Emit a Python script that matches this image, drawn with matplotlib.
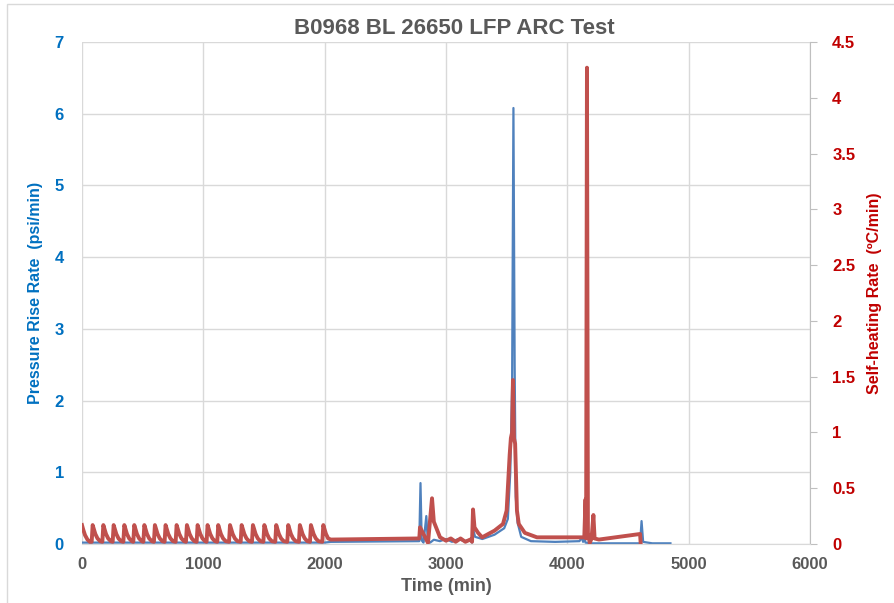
import matplotlib
matplotlib.use("Agg")
import matplotlib.pyplot as plt
from matplotlib.patches import Rectangle

plt.rcParams['font.family'] = ['Liberation Sans', 'DejaVu Sans']
plt.rcParams['font.weight'] = 'bold'

# Pressure rise rate (psi/min) vs time (min)
pressure_time = [0, 2000, 2050, 2780, 2790, 2800, 2815, 2838, 2850, 2870, 2900, 2950, 3000,
                 3050, 3100, 3150, 3200, 3215, 3225, 3240, 3300, 3400, 3480, 3510, 3530,
                 3545, 3556, 3566, 3575, 3590, 3620, 3700, 3900, 4100, 4120, 4130, 4140,
                 4150, 4200, 4600, 4612, 4625, 4700, 4850]
pressure_rate = [0.02, 0.02, 0.03, 0.04, 0.85, 0.05, 0.02, 0.39, 0.05, 0.02, 0.06, 0.04, 0.07,
                 0.03, 0.07, 0.04, 0.06, 0.02, 0.2, 0.1, 0.07, 0.13, 0.22, 0.35, 1.0,
                 2.2, 6.08, 2.5, 0.66, 0.3, 0.1, 0.04, 0.03, 0.04, 0.09, 0.03, 0.08,
                 0.02, 0.01, 0.01, 0.32, 0.03, 0.01, 0.01]

# Self-heating rate (C/min) vs time (min); heat-wait-seek teeth up to ~2000 min
heating_time = [0, 10, 25, 45, 65,
                80, 88, 96, 110, 128, 150,
                168, 176, 184, 198, 216, 238,
                253, 261, 269, 283, 301, 323,
                341, 349, 357, 371, 389, 411,
                423, 431, 439, 453, 471, 493,
                506, 514, 522, 536, 554, 576,
                593, 601, 609, 623, 641, 663,
                681, 689, 697, 711, 729, 751,
                772, 780, 788, 802, 820, 842,
                857, 865, 873, 887, 905, 927,
                945, 953, 961, 975, 993, 1015,
                1027, 1035, 1043, 1057, 1075, 1097,
                1115, 1123, 1131, 1145, 1163, 1185,
                1212, 1220, 1228, 1242, 1260, 1282,
                1308, 1316, 1324, 1338, 1356, 1378,
                1401, 1409, 1417, 1431, 1449, 1471,
                1495, 1503, 1511, 1525, 1543, 1565,
                1593, 1601, 1609, 1623, 1641, 1663,
                1692, 1700, 1708, 1722, 1740, 1762,
                1788, 1796, 1804, 1818, 1836, 1858,
                1879, 1887, 1895, 1909, 1927, 1949,
                1981, 1989, 1997, 2011, 2029, 2051,
                2780, 2786, 2800, 2852, 2885, 2900, 2951, 3000, 3040, 3080, 3120, 3160,
                3200, 3215, 3223, 3235, 3265, 3298, 3400, 3470, 3500, 3525, 3535, 3545,
                3552, 3560, 3570, 3585, 3600, 3650, 3750, 4000, 4140, 4150, 4155, 4162,
                4170, 4185, 4200, 4215, 4225, 4260, 4600, 4605]
heating_rate = [0.17, 0.13, 0.08, 0.04, 0.02,
                0.02, 0.17, 0.14, 0.09, 0.05, 0.025,
                0.02, 0.17, 0.14, 0.09, 0.05, 0.025,
                0.02, 0.17, 0.14, 0.09, 0.05, 0.025,
                0.02, 0.17, 0.14, 0.09, 0.05, 0.025,
                0.02, 0.17, 0.14, 0.09, 0.05, 0.025,
                0.02, 0.17, 0.14, 0.09, 0.05, 0.025,
                0.02, 0.17, 0.14, 0.09, 0.05, 0.025,
                0.02, 0.17, 0.14, 0.09, 0.05, 0.025,
                0.02, 0.17, 0.14, 0.09, 0.05, 0.025,
                0.02, 0.17, 0.14, 0.09, 0.05, 0.025,
                0.02, 0.17, 0.14, 0.09, 0.05, 0.025,
                0.02, 0.17, 0.14, 0.09, 0.05, 0.025,
                0.02, 0.17, 0.14, 0.09, 0.05, 0.025,
                0.02, 0.17, 0.14, 0.09, 0.05, 0.025,
                0.02, 0.17, 0.14, 0.09, 0.05, 0.025,
                0.02, 0.17, 0.14, 0.09, 0.05, 0.025,
                0.02, 0.17, 0.14, 0.09, 0.05, 0.025,
                0.02, 0.17, 0.14, 0.09, 0.05, 0.025,
                0.02, 0.17, 0.14, 0.09, 0.05, 0.025,
                0.02, 0.17, 0.14, 0.09, 0.05, 0.025,
                0.02, 0.17, 0.14, 0.09, 0.05, 0.025,
                0.02, 0.17, 0.14, 0.09, 0.05, 0.04,
                0.05, 0.15, 0.12, 0.01, 0.41, 0.2, 0.06, 0.03, 0.05, 0.02, 0.05, 0.02,
                0.04, 0.02, 0.31, 0.15, 0.1, 0.06, 0.12, 0.18, 0.3, 0.8, 0.95, 1.0,
                1.47, 0.95, 0.9, 0.3, 0.18, 0.1, 0.06, 0.06, 0.06, 0.4, 0.05, 4.27,
                0.1, 0.01, 0.05, 0.26, 0.05, 0.04, 0.09, 0.0]

blue = '#4F81BD'
red = '#C0504D'

fig = plt.figure(figsize=(8.94, 6.03), dpi=100)
ax = fig.add_axes([0.0917, 0.0978, 0.8143, 0.8325])
ax2 = ax.twinx()

ax.plot(pressure_time, pressure_rate, color=blue, linewidth=1.6, zorder=2)
ax2.plot(heating_time, heating_rate, color=red, linewidth=2.8, zorder=3)

ax.set_xlim(0, 6000)
ax.set_ylim(0, 7)
ax2.set_ylim(0, 4.5)
ax.set_xticks(range(0, 6001, 1000))
ax.set_yticks(range(0, 8))
ax2.set_yticks([0, 0.5, 1, 1.5, 2, 2.5, 3, 3.5, 4, 4.5])
ax2.set_yticklabels(['0', '0.5', '1', '1.5', '2', '2.5', '3', '3.5', '4', '4.5'])

ax.grid(True, color='#D9D9D9', linewidth=1)
ax.set_axisbelow(True)
for s in ['top', 'bottom', 'left', 'right']:
    ax.spines[s].set_visible(False)
    ax2.spines[s].set_visible(False)
ax2.spines['right'].set_visible(True)
ax2.spines['right'].set_color('#BFBFBF')
ax2.spines['bottom'].set_visible(True)
ax2.spines['bottom'].set_color('#D9D9D9')

ax.tick_params(axis='x', length=0, pad=9, labelsize=12, labelcolor='#595959')
ax.tick_params(axis='y', length=0, pad=13, labelsize=12, labelcolor='#0070C0')
ax2.tick_params(axis='y', length=5, color='#BFBFBF', pad=11, labelsize=12, labelcolor='#C00000')

ax.set_xlabel('Time (min)', fontsize=13, fontweight='bold', color='#595959', labelpad=5)
ax.set_ylabel('Pressure Rise Rate  (psi/min)', fontsize=11.5, fontweight='bold',
              color='#0070C0')
ax2.set_ylabel('Self-heating Rate  (ºC/min)', fontsize=11.5, fontweight='bold',
               color='#C00000')
ax.yaxis.set_label_coords(-0.054, 0.5)
ax2.yaxis.set_label_coords(1.079, 0.5)
ax.set_title('B0968 BL 26650 LFP ARC Test', fontsize=16, fontweight='bold',
             color='#595959', pad=6, x=0.511)

fig.patches.append(Rectangle((0.008, -0.01), 1.0, 1.003, transform=fig.transFigure,
                             fill=False, edgecolor='#D9D9D9', linewidth=1))

fig.savefig('out.png', dpi=100)
